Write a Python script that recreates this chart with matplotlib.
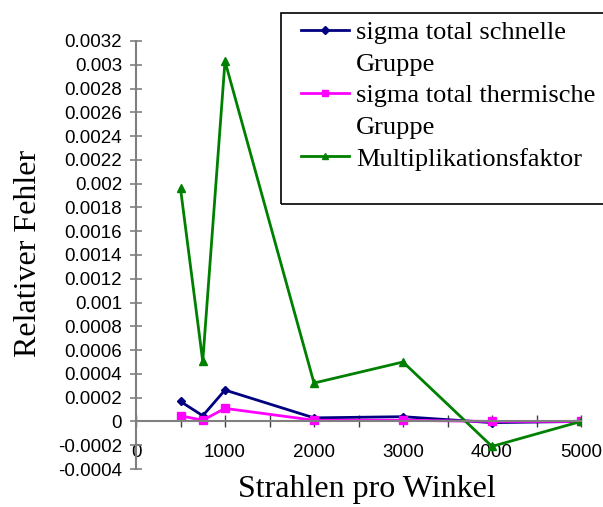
import matplotlib.pyplot as plt
from matplotlib.lines import Line2D
from matplotlib.patches import Rectangle
from matplotlib.ticker import MultipleLocator

strahlen = [500, 750, 1000, 2000, 3000, 4000, 5000]
schnell = [0.000168, 0.000048, 0.000264, 0.00003, 0.00004, -0.00001, 0.0]
thermisch = [0.000048, 0.00001, 0.00011, 0.00001, 0.00001, 0.0, 0.0]
multiplikation = [0.00196, 0.000505, 0.00303, 0.000323, 0.0005, -0.00021, 0.0]

yticks = [-0.0004, -0.0002, 0, 0.0002, 0.0004, 0.0006, 0.0008, 0.001, 0.0012,
          0.0014, 0.0016, 0.0018, 0.002, 0.0022, 0.0024, 0.0026, 0.0028,
          0.003, 0.0032]
ytick_labels = ["-0.0004", "-0.0002", "0", "0.0002", "0.0004", "0.0006",
                "0.0008", "0.001", "0.0012", "0.0014", "0.0016", "0.0018",
                "0.002", "0.0022", "0.0024", "0.0026", "0.0028", "0.003",
                "0.0032"]
xticks = [0, 1000, 2000, 3000, 4000, 5000]

fig = plt.figure(figsize=(6.03, 5.07), dpi=100)
ax = fig.add_axes([136 / 603, 1 - 469 / 507, 445 / 603, 428 / 507])

ax.plot(strahlen, schnell, color="#000080", lw=2, marker="D", ms=4.5)
ax.plot(strahlen, thermisch, color="#FF00FF", lw=2, marker="s", ms=6)
ax.plot(strahlen, multiplikation, color="#008000", lw=2, marker="^", ms=6)

ax.set_xlim(0, 5000)
ax.set_ylim(-0.0004, 0.0032)
ax.set_yticks(yticks)
ax.set_yticklabels(ytick_labels)
ax.set_xticks(xticks)
ax.set_xticklabels([str(x) for x in xticks])
ax.xaxis.set_minor_locator(MultipleLocator(500))

for s in ["top", "right"]:
    ax.spines[s].set_visible(False)
ax.spines["bottom"].set_position(("data", 0))
for s in ["left", "bottom"]:
    ax.spines[s].set_color("#808080")
    ax.spines[s].set_linewidth(1.5)

ax.tick_params(axis="y", which="both", direction="inout", length=8,
               color="#808080", width=1.2, pad=6)
ax.tick_params(axis="x", which="both", direction="inout", length=8,
               color="#404040", width=1.0, pad=12)
for lab in ax.get_xticklabels() + ax.get_yticklabels():
    lab.set_fontfamily("Liberation Sans")
    lab.set_fontsize(13.5)

fig.text(29 / 603, 1 - 253 / 507, "Relativer Fehler", rotation=90,
         ha="center", va="center", family="Liberation Serif", fontsize=23)
fig.text(367 / 603, 1 - 490 / 507, "Strahlen pro Winkel", ha="center",
         va="center", family="Liberation Serif", fontsize=23)

# legend box running off the right edge
fig.patches.append(Rectangle((281 / 603, 1 - 204 / 507), 330 / 603, 191 / 507,
                             transform=fig.transFigure, fill=False,
                             edgecolor="black", lw=1.2))
blank = Line2D([], [], linestyle="none")
handles = [Line2D([], [], color="#000080", lw=2, marker="D", ms=4), blank,
           Line2D([], [], color="#FF00FF", lw=2, marker="s", ms=5), blank,
           Line2D([], [], color="#008000", lw=2, marker="^", ms=5)]
labels = ["sigma total schnelle", "Gruppe", "sigma total thermische",
          "Gruppe", "Multiplikationsfaktor"]
fig.legend(handles, labels, loc="upper left",
           bbox_to_anchor=(283 / 603, 1 - 2 / 507), frameon=False,
           prop=dict(family="Liberation Serif", size=19), handlelength=1.8,
           handletextpad=0.27, labelspacing=0.31, borderpad=0.2)

fig.savefig("out.png", dpi=100)
